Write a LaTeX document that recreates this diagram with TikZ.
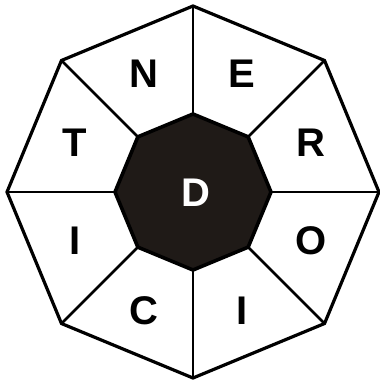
\documentclass[tikz,border=0pt]{standalone}
\usepackage{fontspec}
\setmainfont{Liberation Sans}
\usepackage{tikz}
\usetikzlibrary{calc}
\definecolor{coredark}{HTML}{1F1A17}
\tikzset{
    rim/.style={draw=black, line width=3.2pt, line join=miter},
    spoke/.style={draw=black, line width=2.8pt},
    core/.style={draw=black, fill=coredark, line width=3.6pt, line join=miter},
    letter/.style={font=\fontsize{40}{40}\selectfont\bfseries, text=black},
    centreletter/.style={font=\fontsize{40}{40}\selectfont\bfseries, text=white}
}
\begin{document}
\begin{tikzpicture}[x=1pt, y=1pt]
    \useasboundingbox (-193,-191) rectangle (187,192);
    % corners of both octagons
    \foreach \k in {0,...,7} {
        \coordinate (out\k) at ({45*\k}:186);
        \coordinate (in\k) at ({45*\k}:78);
    }
    % outer rim
    \draw [rim] (out0) -- (out1) -- (out2) -- (out3) -- (out4) -- (out5) -- (out6) -- (out7) -- cycle;
    % spokes
    \foreach \k in {0,...,7} {
        \draw [spoke] (in\k) -- (out\k);
    }
    % dark centre
    \draw [core] (in0) -- (in1) -- (in2) -- (in3) -- (in4) -- (in5) -- (in6) -- (in7) -- cycle;
    \node (mid) [centreletter] at (3,-1) {D};
    % letters round the ring
    \node (e) [letter] at (67.5:128) {E};
    \node (n) [letter] at (112.5:128) {N};
    \node (t) [letter] at (157.5:128) {T};
    \node (iw) [letter] at (202.5:128) {I};
    \node (c) [letter] at (247.5:128) {C};
    \node (is) [letter] at (292.5:128) {I};
    \node (o) [letter] at (337.5:128) {O};
    \node (r) [letter] at (22.5:128) {R};
\end{tikzpicture}
\end{document}
